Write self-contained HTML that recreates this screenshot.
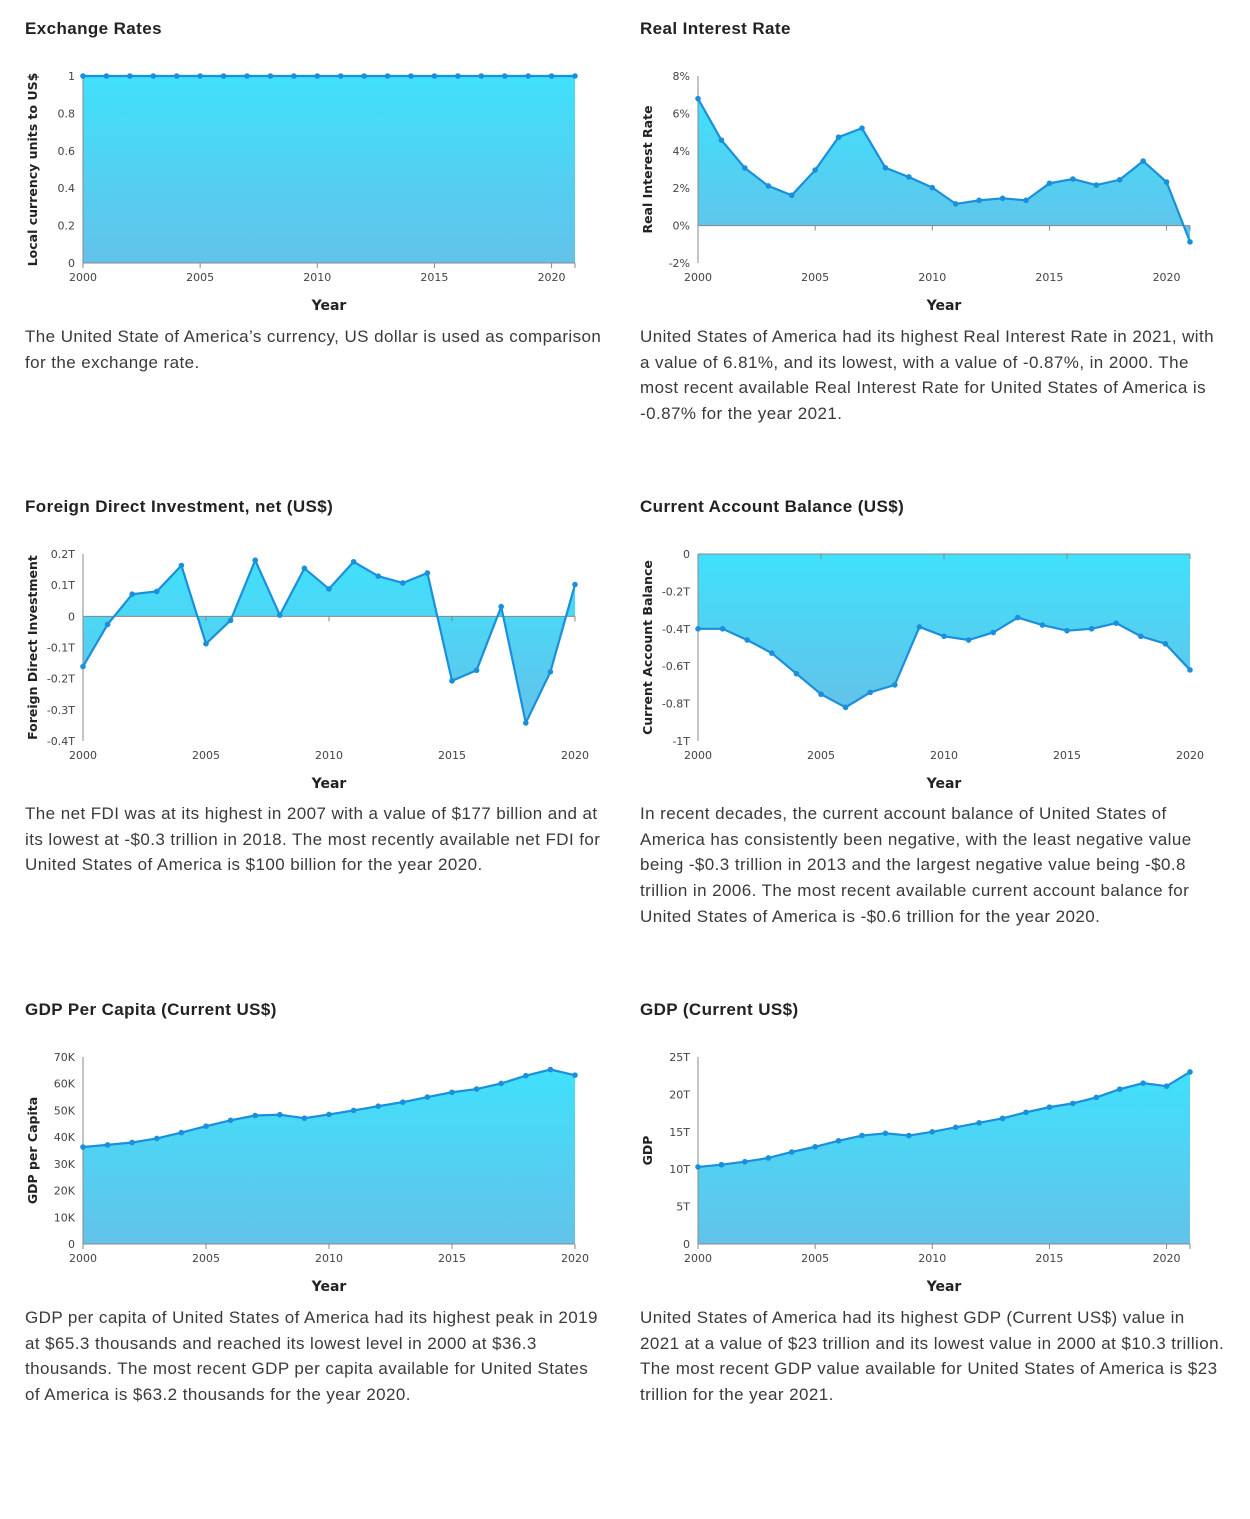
<!DOCTYPE html>
<html><head><meta charset="utf-8"><style>
body{margin:0;width:1250px;height:1519px;background:#fff;font-family:"Liberation Sans",sans-serif;position:relative;overflow:hidden}
.t{position:absolute;font-weight:bold;font-size:17px;letter-spacing:0.4px;color:#222}
.d{position:absolute;font-size:17px;line-height:25.7px;color:#3a3a3a;width:610px;letter-spacing:0.42px;white-space:nowrap}
svg{position:absolute;left:0;top:0}
text{font-family:"DejaVu Sans","Liberation Sans",sans-serif}
</style></head><body>
<div class="t" style="left:25px;top:19px">Exchange Rates</div>
<div class="t" style="left:640px;top:19px">Real Interest Rate</div>
<div class="t" style="left:25px;top:497px">Foreign Direct Investment, net (US$)</div>
<div class="t" style="left:640px;top:497px">Current Account Balance (US$)</div>
<div class="t" style="left:25px;top:1000px">GDP Per Capita (Current US$)</div>
<div class="t" style="left:640px;top:1000px">GDP (Current US$)</div>
<div class="d" style="left:25px;top:324px">The United State of America’s currency, US dollar is used as comparison<br>for the exchange rate.</div>
<div class="d" style="left:640px;top:324px">United States of America had its highest Real Interest Rate in 2021, with<br>a value of 6.81%, and its lowest, with a value of -0.87%, in 2000. The<br>most recent available Real Interest Rate for United States of America is<br>-0.87% for the year 2021.</div>
<div class="d" style="left:25px;top:801px">The net FDI was at its highest in 2007 with a value of $177 billion and at<br>its lowest at -$0.3 trillion in 2018. The most recently available net FDI for<br>United States of America is $100 billion for the year 2020.</div>
<div class="d" style="left:640px;top:801px">In recent decades, the current account balance of United States of<br>America has consistently been negative, with the least negative value<br>being -$0.3 trillion in 2013 and the largest negative value being -$0.8<br>trillion in 2006. The most recent available current account balance for<br>United States of America is -$0.6 trillion for the year 2020.</div>
<div class="d" style="left:25px;top:1305px">GDP per capita of United States of America had its highest peak in 2019<br>at $65.3 thousands and reached its lowest level in 2000 at $36.3<br>thousands. The most recent GDP per capita available for United States<br>of America is $63.2 thousands for the year 2020.</div>
<div class="d" style="left:640px;top:1305px">United States of America had its highest GDP (Current US$) value in<br>2021 at a value of $23 trillion and its lowest value in 2000 at $10.3 trillion.<br>The most recent GDP value available for United States of America is $23<br>trillion for the year 2021.</div>
<svg id="s" width="1250" height="1519">
<defs><linearGradient id="g" x1="0" y1="0" x2="0" y2="1"><stop offset="0" stop-color="#36dffb"/><stop offset="1" stop-color="#5bbfe8"/></linearGradient></defs>
</svg>
<script>
const exchangeValues=[1,1,1,1,1,1,1,1,1,1,1,1,1,1,1,1,1,1,1,1,1,1];
const interestValues=[6.79,4.57,3.08,2.12,1.62,2.97,4.73,5.21,3.09,2.6,2.03,1.16,1.35,1.46,1.35,2.26,2.49,2.17,2.45,3.45,2.33,-0.87];
const fdiValues=[-0.161,-0.026,0.071,0.080,0.163,-0.088,-0.013,0.18,0.004,0.154,0.088,0.175,0.129,0.107,0.139,-0.207,-0.173,0.031,-0.342,-0.178,0.102];
const currentValues=[-0.40,-0.40,-0.46,-0.53,-0.64,-0.75,-0.82,-0.74,-0.70,-0.39,-0.44,-0.46,-0.42,-0.34,-0.38,-0.41,-0.40,-0.37,-0.44,-0.48,-0.62];
const gdpPcValues=[36.3,37.1,38.0,39.5,41.7,44.1,46.3,48.1,48.4,47.1,48.5,50.0,51.6,53.1,55.0,56.8,58.0,60.1,63.0,65.3,63.2];
const gdpValues=[10.3,10.6,11.0,11.5,12.3,13.0,13.8,14.5,14.8,14.5,15.0,15.6,16.2,16.8,17.6,18.3,18.8,19.6,20.7,21.5,21.1,23.0];
const exchangeTicks=[0,0.2,0.4,0.6,0.8,1];
const exchangeTickLabels=["0","0.2","0.4","0.6","0.8","1"];
const interestTicks=[-2,0,2,4,6,8];
const interestTickLabels=["-2%","0%","2%","4%","6%","8%"];
const fdiTicks=[-0.4,-0.3,-0.2,-0.1,0,0.1,0.2];
const fdiTickLabels=["-0.4T","-0.3T","-0.2T","-0.1T","0","0.1T","0.2T"];
const currentTicks=[-1,-0.8,-0.6,-0.4,-0.2,0];
const currentTickLabels=["-1T","-0.8T","-0.6T","-0.4T","-0.2T","0"];
const gdpPcTicks=[0,10,20,30,40,50,60,70];
const gdpPcTickLabels=["0","10K","20K","30K","40K","50K","60K","70K"];
const gdpTicks=[0,5,10,15,20,25];
const gdpTickLabels=["0","5T","10T","15T","20T","25T"];
const yearTicks=[2000,2005,2010,2015,2020];
const startYear=2000;

const S=document.getElementById('s');
const NS='http://www.w3.org/2000/svg';
function mk(tag,a,parent){const e=document.createElementNS(NS,tag);for(const k in a)e.setAttribute(k,a[k]);(parent||S).appendChild(e);return e;}
function chart(name,L,T,values,ymin,ymax,ticks,labels,ytitle,titleX){
  const R=L+492,B=T+187;
  const g=mk('g',{});
  
  
  const n=values.length;
  const x=i=>L+(R-L)*i/(n-1);
  const y=v=>B-(v-ymin)/(ymax-ymin)*(B-T);
  const base=y(Math.max(ymin,Math.min(0,ymax)));
  let d='M'+x(0)+','+base;
  values.forEach((v,i)=>d+=' L'+x(i)+','+y(v));
  d+=' L'+x(n-1)+','+base+' Z';
  const area=mk('path',{d:d,fill:'url(#g)',opacity:0.95},g);
  
  
  mk('line',{x1:L,y1:T,x2:L,y2:B,stroke:'#888','stroke-width':1},g);
  mk('line',{x1:L,y1:base,x2:R,y2:base,stroke:'#888','stroke-width':1},g);
  ticks.forEach((t,i)=>{
    const lb=mk('text',{x:L-8,y:y(t)+4,'text-anchor':'end','font-size':11,fill:'#444'},g);
    lb.textContent=labels[i];
    
    
  });
  yearTicks.forEach(yr=>{
    const i=yr-startYear; if(i>n-1)return;
    mk('line',{x1:x(i),y1:base,x2:x(i),y2:base+5,stroke:'#888'},g);
    const lb=mk('text',{x:x(i),y:B+18,'text-anchor':'middle','font-size':11,fill:'#444'},g);
    lb.textContent=yr;
    
    
  });
  mk('line',{x1:R,y1:base,x2:R,y2:base+5,stroke:'#888'},g);
  const pts=values.map((v,i)=>x(i)+','+y(v)).join(' ');
  const ln=mk('polyline',{points:pts,fill:'none',stroke:'#1a8fdb','stroke-width':2.2},g);
  
  
  values.forEach((v,i)=>{
    const c=mk('circle',{cx:x(i),cy:y(v),r:2.8,fill:'#1a8fdb'},g);
    
    
  });
  const xt=mk('text',{x:(L+R)/2,y:B+47,'text-anchor':'middle','font-size':14,'font-weight':'bold',fill:'#222'},g);
  xt.textContent='Year';
  
  
  const yt=mk('text',{x:0,y:0,'text-anchor':'middle','font-size':12.5,'font-weight':'bold',fill:'#222',transform:'translate('+titleX+','+(T+B)/2+') rotate(-90)'},g);
  yt.textContent=ytitle;
  
  
}
chart('exchange-rates',83,76,exchangeValues,0,1,exchangeTicks,exchangeTickLabels,'Local currency units to US$',37);
chart('real-interest',698,76,interestValues,-2,8,interestTicks,interestTickLabels,'Real Interest Rate',652);
chart('fdi',83,554,fdiValues,-0.4,0.2,fdiTicks,fdiTickLabels,'Foreign Direct Investment',37);
chart('current-account',698,554,currentValues,-1,0,currentTicks,currentTickLabels,'Current Account Balance',652);
chart('gdp-per-capita',83,1057,gdpPcValues,0,70,gdpPcTicks,gdpPcTickLabels,'GDP per Capita',37);
chart('gdp',698,1057,gdpValues,0,25,gdpTicks,gdpTickLabels,'GDP',652);
</script>
</body></html>
